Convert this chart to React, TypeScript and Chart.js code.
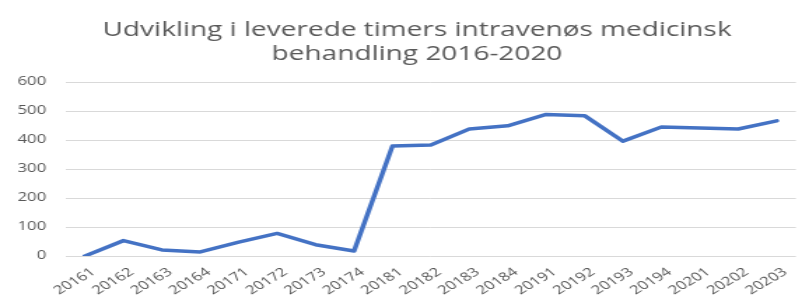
import React, { useEffect, useRef } from "react";
import { Chart, registerables } from "chart.js";

Chart.register(...registerables);

const categories = [
  "20161", "20162", "20163", "20164",
  "20171", "20172", "20173", "20174",
  "20181", "20182", "20183", "20184",
  "20191", "20192", "20193", "20194",
  "20201", "20202", "20203",
];

const hours = [
  0, 53, 21, 14,
  48, 78, 39, 17,
  379, 383, 438, 449,
  488, 484, 396, 445,
  441, 438, 466,
];

const titleLines = [
  "Udvikling i leverede timers intravenøs medicinsk",
  "behandling 2016-2020",
];

const yMin = 0;
const yMax = 600;
const yStep = 100;

const STRETCH = 1.4;
const OUT_W = 802;
const OUT_H = 298;
const IN_W = Math.round(OUT_W / STRETCH);

const titlePlugin = {
  id: "stretchedTitle",
  afterDraw(chart: any) {
    const ctx = chart.ctx;
    ctx.save();
    ctx.fillStyle = "#595959";
    ctx.font = "20px 'Open Sans'";
    ctx.textAlign = "center";
    ctx.textBaseline = "alphabetic";
    const cx = chart.width * 0.52;
    ctx.fillText(titleLines[0], cx, 36);
    ctx.fillText(titleLines[1], cx, 60);
    ctx.restore();
  },
};

export default function App() {
  const ref = useRef<HTMLCanvasElement | null>(null);

  useEffect(() => {
    if (!ref.current) return;
    const chart = new Chart(ref.current, {
      type: "line",
      data: {
        labels: categories,
        datasets: [
          {
            data: hours,
            borderColor: "#4472C4",
            backgroundColor: "#4472C4",
            borderWidth: 3.5,
            pointRadius: 0,
            tension: 0,
            borderJoinStyle: "round",
            borderCapStyle: "round",
          },
        ],
      },
      options: {
        animation: false,
        responsive: false,
        maintainAspectRatio: false,
        devicePixelRatio: 1,
        layout: { padding: { top: 82, right: 1.5, left: 0, bottom: 0 } },
        plugins: {
          legend: { display: false },
          title: { display: false },
          tooltip: { enabled: false },
        },
        scales: {
          x: {
            offset: true,
            grid: { display: false, drawTicks: false },
            border: { display: false },
            ticks: {
              color: "#555555",
              font: { family: "'Open Sans'", size: 12 },
              maxRotation: 39,
              minRotation: 39,
              autoSkip: false,
              padding: 9,
              labelOffset: 6,
            },
            afterFit: (s: any) => {
              s.height = 42;
            },
          },
          y: {
            min: yMin,
            max: yMax,
            grid: { color: "#d9d9d9", lineWidth: 1, drawTicks: false },
            border: { display: false },
            ticks: {
              stepSize: yStep,
              color: "#595959",
              font: { family: "'Open Sans'", size: 12 },
              padding: 14,
            },
            afterFit: (s: any) => {
              s.width = 47;
            },
          },
        },
      },
      plugins: [titlePlugin],
    });
    return () => chart.destroy();
  }, []);

  return (
    <div style={{ position: "absolute", left: 0, top: 0, width: OUT_W, height: OUT_H, background: "#fff" }}>
      <canvas
        ref={ref}
        width={IN_W}
        height={OUT_H}
        style={{ display: "block", width: OUT_W + "px", height: OUT_H + "px" }}
      />
    </div>
  );
}
